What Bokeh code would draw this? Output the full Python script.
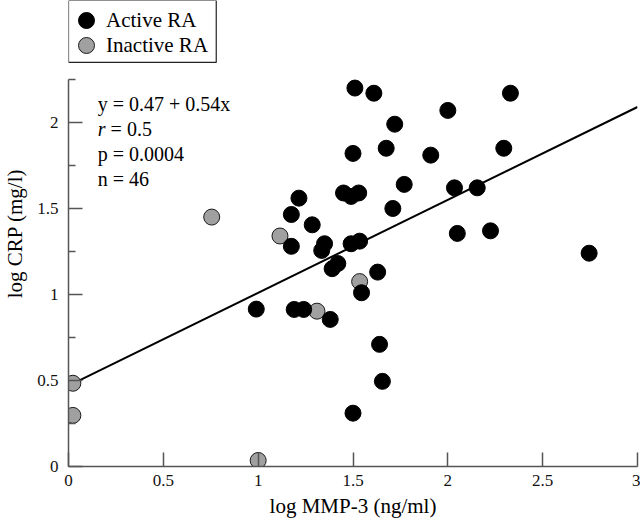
from bokeh.plotting import figure
from bokeh.models import (Range1d, FixedTicker, Label, Legend, LegendItem, ColumnDataSource,
                          BoxAnnotation)
from bokeh.embed import file_html
from bokeh.resources import INLINE

# ---- data ----
active_x = [1.51, 1.61, 2.33, 2.00, 1.72, 1.50, 1.675, 1.91, 2.295, 1.77, 2.035, 2.155,
            1.45, 1.49, 1.53, 1.71, 2.05, 2.225, 2.745, 1.49, 1.535, 1.42, 1.39, 1.63,
            1.545, 0.99, 1.19, 1.24, 1.38, 1.64, 1.655, 1.50, 1.215, 1.175, 1.285, 1.175,
            1.35, 1.335]
active_y = [2.20, 2.17, 2.17, 2.07, 1.99, 1.82, 1.85, 1.81, 1.85, 1.64, 1.62, 1.62,
            1.59, 1.57, 1.59, 1.50, 1.355, 1.37, 1.24, 1.295, 1.31, 1.18, 1.15, 1.13,
            1.01, 0.915, 0.913, 0.913, 0.855, 0.71, 0.495, 0.31, 1.56, 1.465, 1.405, 1.28,
            1.295, 1.256]
inactive_x = [0.755, 1.115, 1.535, 1.31, 1.0, 0.023, 0.023]
inactive_y = [1.45, 1.34, 1.075, 0.903, 0.035, 0.484, 0.297]

fit_intercept = 0.47
fit_slope = 0.54
fit_x = [0.02, 3.0]

x_ticks = [0, 0.5, 1, 1.5, 2, 2.5, 3]
x_tick_labels = ["0", "0.5", "1", "1.5", "2", "2.5", "3"]
y_ticks = [0, 0.5, 1, 1.5, 2]
y_tick_labels = ["0", "0.5", "1", "1.5", "2"]
y_minor_ticks = [0.25, 0.75, 1.25, 1.75, 2.25]
y_axis_max = 2.25

series_names = ["Active RA", "Inactive RA"]
x_title = "log MMP-3 (ng/ml)"
y_title = "log CRP (mg/l)"
stats_lines = ["y = 0.47 + 0.54x", "r", "= 0.5", "p = 0.0004", "n = 46"]

FONT = "Liberation Serif"
AXIS_COLOR = "#555555"
Y_TOP = 2.709  # frame reaches the top of the canvas so the legend above the axis shows

p = figure(width=640, height=523, output_backend="svg", toolbar_location=None,
           x_range=Range1d(0, 3), y_range=Range1d(0, Y_TOP),
           min_border_left=67, min_border_right=3, min_border_top=0, min_border_bottom=57)
p.outline_line_color = None
p.xgrid.visible = False
p.ygrid.visible = False
p.background_fill_color = "white"
p.border_fill_color = "white"

# axes
for ax in (p.xaxis[0], p.yaxis[0]):
    ax.axis_line_color = AXIS_COLOR
    ax.axis_line_width = 1.5
    ax.major_tick_line_color = AXIS_COLOR
    ax.major_tick_line_width = 1.5
    ax.minor_tick_line_color = AXIS_COLOR
    ax.minor_tick_line_width = 1.5
    ax.major_tick_out = 0
    ax.major_tick_in = 14
    ax.minor_tick_out = 0
    ax.minor_tick_in = 7
    ax.major_label_text_font = FONT
    ax.major_label_text_font_size = "17px"
    ax.major_label_text_color = "#111111"
    ax.axis_label_text_font = FONT
    ax.axis_label_text_font_size = "21px"
    ax.axis_label_text_font_style = "normal"
    ax.axis_label_text_color = "black"

p.xaxis.ticker = FixedTicker(ticks=x_ticks, minor_ticks=[])
p.xaxis.major_label_overrides = {t: l for t, l in zip(x_ticks, x_tick_labels)}
p.xaxis.major_label_standoff = 8
p.xaxis.axis_label = x_title
p.xaxis.axis_label_standoff = 5
p.yaxis.ticker = FixedTicker(ticks=y_ticks, minor_ticks=y_minor_ticks)
p.yaxis.bounds = (0, y_axis_max)
p.yaxis.major_label_overrides = {t: l for t, l in zip(y_ticks, y_tick_labels)}
p.yaxis.major_label_standoff = 10
p.yaxis.major_label_orientation = "horizontal"
p.yaxis.axis_label = y_title
p.yaxis.axis_label_standoff = 7

# fit line
fit_y = [fit_intercept + fit_slope * x for x in fit_x]
p.line(fit_x, fit_y, line_color="black", line_width=2)

src_in = ColumnDataSource(dict(x=inactive_x, y=inactive_y))
src_ac = ColumnDataSource(dict(x=active_x, y=active_y))
r_in = p.scatter("x", "y", source=src_in, size=16, fill_color="#a0a0a0",
                 line_color="#1a1a1a", line_width=1)
r_ac = p.scatter("x", "y", source=src_ac, size=16, fill_color="black",
                 line_color="black", line_width=1)

# legend frame
p.add_layout(BoxAnnotation(left=0, right=0.779, bottom=2.349, top=Y_TOP,
                           fill_color="white", fill_alpha=1.0,
                           line_color="#222222", line_width=1.2, line_alpha=1.0))

# stats annotation
ann_x = 0.154
ann_y = [2.109, 1.962, 1.814, 1.669]
common = dict(text_font=FONT, text_font_size="20px", text_color="black",
              text_baseline="alphabetic", text_align="left")
p.add_layout(Label(x=ann_x, y=ann_y[0], text=stats_lines[0], **common))
p.add_layout(Label(x=ann_x, y=ann_y[1], text=stats_lines[1], text_font_style="italic", **common))
p.add_layout(Label(x=0.222, y=ann_y[1], text=stats_lines[2], **common))
p.add_layout(Label(x=ann_x, y=ann_y[2], text=stats_lines[3], **common))
p.add_layout(Label(x=ann_x, y=ann_y[3], text=stats_lines[4], **common))

# one legend per entry so entries can sit closer than the glyph box height
legend_style = dict(orientation="vertical", glyph_width=40, glyph_height=40,
                    label_height=20, padding=0, margin=0, label_standoff=0,
                    label_text_font=FONT, label_text_font_size="21px",
                    label_text_color="black", label_text_baseline="middle",
                    border_line_color=None, background_fill_alpha=0.0)
leg1 = Legend(items=[LegendItem(label=series_names[0], renderers=[r_ac])],
              location=(-2, 426), **legend_style)
leg2 = Legend(items=[LegendItem(label=series_names[1], renderers=[r_in])],
              location=(-2, 401), **legend_style)
p.add_layout(leg1)
p.add_layout(leg2)

open("out.html", "w").write(file_html(p, INLINE))
